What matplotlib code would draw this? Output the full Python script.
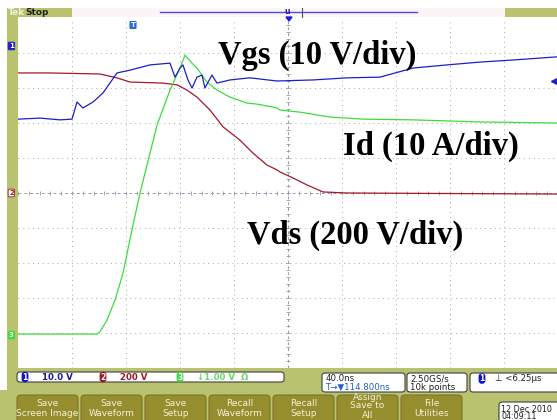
import matplotlib.pyplot as plt
from matplotlib.patches import Rectangle, FancyBboxPatch, Polygon

# time axis in ns (40 ns/div, trigger at centre), values in screen divisions
vgs_t = [-200, -183.7, -168.9, -160, -156.3, -151.9, -144.4, -137, -131.9, -126.7, -117, -102.2,
         -87.4, -83.7, -80, -77.8, -74.1, -71.1, -67.4, -63.7, -61.5, -56.3, -52.6, -43, -28.1,
         -8.1, 18.5, 43.7, 68.1, 92.6, 117.8, 142.2, 166.7, 199.3]
vgs_div = [2.11, 2.14, 2.09, 2.11, 2.60, 2.43, 2.60, 2.86, 3.14, 3.43, 3.51, 3.66,
           3.71, 3.31, 3.57, 3.66, 3.23, 3.0, 3.31, 3.37, 3.0, 3.37, 3.14, 3.23, 3.29,
           3.20, 3.23, 3.29, 3.31, 3.57, 3.66, 3.74, 3.80, 3.89]

id_t = [-200, -170, -141.5, -139.3, -134.1, -128.1, -122.2, -115.6, -109.6, -97, -87.4, -80,
        -76.3, -71.1, -67.4, -60, -52.6, -43, -30.4, -23, -8.1, -5.9, 8.9, 31.1,
        55.6, 92.6, 142.2, 199.3]
id_div = [-4.03, -4.03, -4.03, -3.97, -3.63, -3.06, -2.29, -1.06, 0.0, 1.94, 2.94, 3.57,
          3.94, 3.71, 3.57, 3.17, 2.94, 2.74, 2.57, 2.54, 2.43, 2.37, 2.31, 2.17,
          2.11, 2.09, 2.03, 2.0]

vds_t = [-200, -176.3, -139.3, -126.7, -117, -92.6, -82.2, -74.8, -67.4, -57.8, -48.1, -35.6,
         -25.9, -15.6, -8.1, -5.9, 3.7, 14.1, 25.9, 43.7, 199.3]
vds_div = [3.43, 3.43, 3.40, 3.29, 3.17, 3.14, 3.09, 2.94, 2.74, 2.37, 1.89, 1.51,
           1.14, 0.8, 0.66, 0.6, 0.43, 0.23, 0.03, 0.0, -0.03]

labels = ['Vgs (10 V/div)', 'Id (10 A/div)', 'Vds (200 V/div)']
label_pos = [(-51.9, 3.94), (40.7, 1.34), (-30.4, -1.2)]
ground_div = [4.2, 0.0, -4.06]

buttons = ['Save\nScreen Image', 'Save\nWaveform', 'Save\nSetup', 'Recall\nWaveform',
           'Recall\nSetup', 'Assign\nSave to\nAll', 'File\nUtilities']

W, H = 557, 420
OLIVE = '#b9c26f'
BTN = '#968d2e'
BLUE = '#1e1ec8'
RED = '#a3182a'
GREEN = '#3ddc3d'

fig = plt.figure(figsize=(W / 100, H / 100), dpi=100, facecolor='white')


def fx(x):
    return x / W


def fy(y):
    return 1 - y / H


def rect(x0, y0, x1, y1, color, **kw):
    fig.add_artist(Rectangle((fx(x0), fy(y1)), fx(x1 - x0), (y1 - y0) / H,
                             transform=fig.transFigure, facecolor=color, edgecolor='none', **kw))


def rbox(x0, y0, x1, y1, fc, ec='#404040', pad=0.006):
    fig.add_artist(FancyBboxPatch((fx(x0), fy(y1)), fx(x1 - x0), (y1 - y0) / H,
                                  boxstyle='round,pad=0,rounding_size=%g' % pad,
                                  transform=fig.transFigure, facecolor=fc, edgecolor=ec, lw=0.8))


# frame of the scope screen
rect(7, 8, 72, 17, OLIVE)
rect(72, 8, 505, 17, '#fdf4f7')
rect(505, 8, 557, 17, OLIVE)
rect(7, 8, 18, 390, OLIVE)
rect(7, 368, 557, 390, OLIVE)
rect(0, 390, 557, 420, OLIVE)

fig.text(fx(8), fy(12.5), 'Tek', color='#eef0d8', fontsize=6.5, fontweight='bold', va='center')
fig.text(fx(25), fy(12.5), 'Stop', color='#202020', fontsize=6.5, fontweight='bold', va='center')
fig.add_artist(plt.Line2D([fx(160), fx(417)], [fy(12), fy(12)], color='#5050c8', lw=1,
                          transform=fig.transFigure))
fig.add_artist(plt.Line2D([fx(302), fx(302)], [fy(8), fy(17)], color='#505050', lw=0.8,
                          transform=fig.transFigure))
fig.text(fx(284), fy(12), 'u', color=BLUE, fontsize=5.5, fontweight='bold', va='center')
fig.add_artist(Polygon([(fx(286), fy(17)), (fx(292), fy(17)), (fx(289), fy(21))],
                       transform=fig.transFigure, color=BLUE))

# plot area
ax = fig.add_axes([fx(18), fy(368), fx(539), 350 / H])
ax.set_xlim(-200, 199.3)
ax.set_ylim(-5, 5)
ax.set_facecolor('white')
for s in ax.spines.values():
    s.set_visible(False)
ax.set_xticks([])
ax.set_yticks([])

grid_kw = dict(color='#a8a8a8', lw=0.7, linestyle=(0, (1, 4)), zorder=1)
for t in range(-160, 200, 40):
    if t != 0:
        ax.axvline(t, **grid_kw)
for d in range(-4, 5):
    if d != 0:
        ax.axhline(d, **grid_kw)
ax.axhline(0, color='#9898b0', lw=0.7, linestyle=(0, (3, 3)), zorder=1)
ax.axvline(0, color='#9898b0', lw=0.7, linestyle=(0, (3, 3)), zorder=1)
tick_t = [i * 8 for i in range(-25, 26)]
tick_d = [i * 0.2 for i in range(-25, 26)]
ax.plot(tick_t, [0] * len(tick_t), linestyle='none', marker='|', ms=3, color='#9898b0', mew=0.6)
ax.plot([0] * len(tick_d), tick_d, linestyle='none', marker='_', ms=3, color='#9898b0', mew=0.6)

ax.plot(vds_t, vds_div, color=RED, lw=0.9, zorder=3)
ax.plot(id_t, id_div, color=GREEN, lw=0.9, zorder=3)
ax.plot(vgs_t, vgs_div, color=BLUE, lw=0.9, zorder=4)

for txt, (tx, ty) in zip(labels, label_pos):
    ax.text(tx, ty, txt, fontsize=23.5, fontweight='bold', family='Liberation Serif',
            va='center', ha='left', color='black', zorder=5)

# trigger markers
ax.text(-114.8, 4.8, 'T', fontsize=5, fontweight='bold', color='white', ha='center', va='center',
        bbox=dict(boxstyle='round,pad=0.15', fc='#2a6ad8', ec='none'))
ax.plot([197], [3.2], marker='<', ms=4, color=BLUE, clip_on=False)

# ground markers on the left strip
for n, (g, c) in enumerate(zip(ground_div, [BLUE, RED, GREEN]), start=1):
    y = 193 - g * 35
    fig.text(fx(9), fy(y), str(n), fontsize=5, fontweight='bold', va='center', ha='left',
             color=c if n == 2 else 'white',
             bbox=dict(boxstyle='round,pad=0.12', fc=c if n != 2 else 'white', ec=c, lw=0.6))

# readouts
rbox(17, 372, 284, 382, 'white')
for xc, num, c, txt, tc in [(25, '1', '#1010d0', '10.0 V', '#1a1a9a'),
                            (103, '2', '#a01828', '200 V', '#a01828'),
                            (180, '3', '#44d444', '\u21931.00 V  \u03a9', '#6ad86a')]:
    fig.text(fx(xc), fy(377), num, fontsize=5.5, fontweight='bold', color='white', ha='center',
             va='center', bbox=dict(boxstyle='round,pad=0.1,rounding_size=0.4', fc=c, ec='none'))
    fig.text(fx(xc + 17), fy(377), txt, fontsize=6.2, fontweight='bold', color=tc, va='center')

rbox(322, 373, 405, 392, 'white')
fig.text(fx(326), fy(378.5), '40.0ns', fontsize=6.2, color='#202020', va='center')
fig.text(fx(326), fy(387.5), 'T\u2192\u25bc114.800ns', fontsize=6.2, color='#2060d0', va='center')
rbox(407, 373, 467, 392, 'white')
fig.text(fx(410), fy(378.5), '2.50GS/s', fontsize=6.2, color='#202020', va='center')
fig.text(fx(410), fy(387.5), '10k points', fontsize=6.2, color='#202020', va='center')
rbox(470, 373, 560, 392, 'white')
fig.text(fx(482), fy(378.5), '1', fontsize=5.5, fontweight='bold', color='white', ha='center',
         va='center', bbox=dict(boxstyle='round,pad=0.1,rounding_size=0.4', fc='#1010d0', ec='none'))
fig.text(fx(495), fy(378.5), '\u22a5 <6.25\u00b5s', fontsize=6.2, color='#202020', va='center')

# soft buttons
for i, b in enumerate(buttons):
    x0 = 17 + i * 64
    rbox(x0, 395, x0 + 61, 425, BTN, ec='#7a7628', pad=0.008)
    fig.text(fx(x0 + 30.5), fy(408.5 if i != 5 else 406), b, fontsize=6.5, color='#f4f2d8',
             ha='center', va='center', linespacing=1.0)

rbox(499, 402, 562, 425, 'white')
fig.text(fx(501), fy(409), '12 Dec 2010', fontsize=5.8, color='#202020', va='center')
fig.text(fx(501), fy(416.5), '04:09:11', fontsize=5.8, color='#202020', va='center')

fig.savefig('out.png', dpi=100, facecolor='white')
